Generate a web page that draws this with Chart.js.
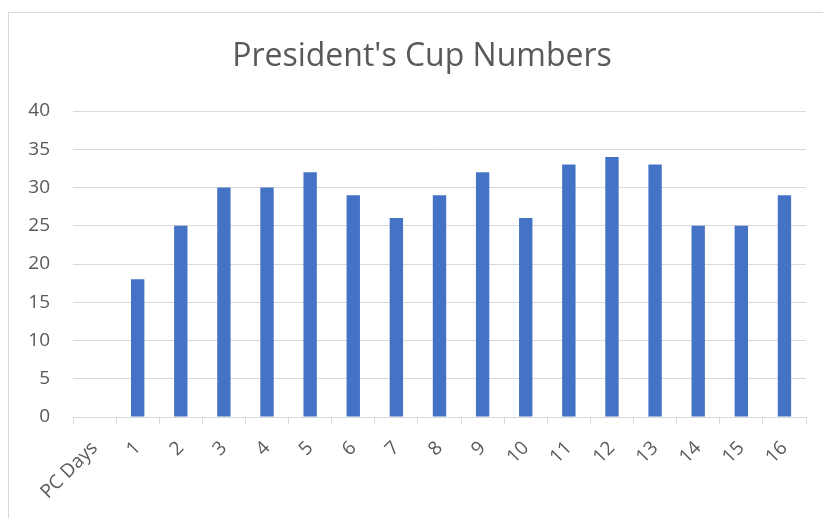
<!DOCTYPE html>
<html><head><meta charset="utf-8">
<script src="https://cdn.jsdelivr.net/npm/chart.js@4"></script>
<style>
html,body{margin:0;padding:0;background:#fff;}
#wrap{position:relative;width:823px;height:518px;overflow:hidden;}
#frame{position:absolute;left:8px;top:12px;width:900px;height:600px;border:1px solid #d9d9d9;box-sizing:border-box;}
canvas{position:absolute;left:0;top:0;}
</style></head>
<body>
<div id="wrap"><div id="frame"></div><canvas id="c" width="823" height="518"></canvas></div>
<script>
const categories = ["PC Days","1","2","3","4","5","6","7","8","9","10","11","12","13","14","15","16"];
const values = [null,18,25,30,30,32,29,26,29,32,26,33,34,33,25,25,29];
const titleText = "President's Cup Numbers";

const textColor = '#595959';
const fontFamily = "'Open Sans', 'Liberation Sans', sans-serif";

// center the title over the outer frame rather than the canvas area
const centerTitle = {
  id: 'centerTitle',
  afterLayout(chart) {
    const t = chart.titleBlock;
    if (t) { t.left = 38; t.right = 806; }
  }
};

new Chart(document.getElementById('c'), {
  type: 'bar',
  data: {
    labels: categories,
    datasets: [{ data: values, backgroundColor: '#4472C4', barPercentage: 0.31, categoryPercentage: 1.0 }]
  },
  plugins: [centerTitle],
  options: {
    responsive: false,
    animation: false,
    devicePixelRatio: 1,
    layout: { padding: { left: 0, right: 17, top: 0, bottom: 0 } },
    plugins: {
      legend: { display: false },
      tooltip: { enabled: false },
      title: {
        display: true, text: titleText, color: textColor,
        font: { family: fontFamily, size: 32, weight: 'normal', lineHeight: 1.2 },
        padding: { top: 38, bottom: 34.6 }
      }
    },
    scales: {
      x: {
        offset: true,
        grid: { offset: true, drawOnChartArea: false, drawTicks: true, tickLength: 7, color: '#d9d9d9' },
        border: { color: '#d9d9d9' },
        ticks: { color: textColor, font: { family: fontFamily, size: 19 }, minRotation: 45, maxRotation: 45, padding: 13, autoSkip: false },
        afterFit: s => { s.height = 101; }
      },
      y: {
        min: 0, max: 40,
        grid: { color: '#d9d9d9', drawTicks: false },
        border: { display: false },
        ticks: { stepSize: 5, color: textColor, font: { family: fontFamily, size: 19 }, padding: 23 },
        afterFit: s => { s.width = 73; }
      }
    }
  }
});
</script>
</body></html>
